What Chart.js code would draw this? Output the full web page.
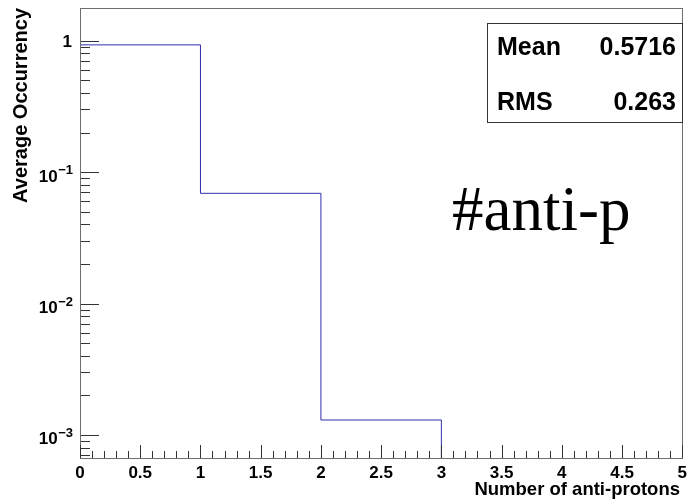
<!DOCTYPE html>
<html>
<head>
<meta charset="utf-8">
<script src="https://cdn.jsdelivr.net/npm/chart.js@4/dist/chart.umd.min.js"></script>
<style>
  html, body { margin: 0; padding: 0; background: #ffffff; }
  #wrap { width: 692px; height: 500px; }
</style>
</head>
<body>
<div id="wrap"><canvas id="c" width="692" height="500"></canvas></div>
<script>
// Bin edges (number of anti-protons) and normalised bin contents
const binEdges = [0, 1, 2, 3, 4, 5];
const binContents = [0.9297, 0.069, 0.0013, 0, 0];

// Axis ranges
const xRange = [0, 5];
const yRange = [0.000668, 1.774];

// Tick labels
const xTickLabels = ['0', '0.5', '1', '1.5', '2', '2.5', '3', '3.5', '4', '4.5', '5'];
const yTickValues = [1e-3, 1e-2, 1e-1, 1];
const yTickBase = ['10', '10', '10', '1'];
const yTickExp = ['\u22123', '\u22122', '\u22121', ''];

// Titles, statistics box and annotation
const xTitle = 'Number of anti-protons';
const yTitle = 'Average Occurrency';
const statNames = ['Mean', 'RMS'];
const statValues = ['0.5716', '0.263'];
const annotation = '#anti-p';

const SANS = '"Liberation Sans", Arial, Helvetica, sans-serif';
const SERIF = '"Liberation Serif", "Times New Roman", serif';

// Histogram outline: one point per lower bin edge; the first empty bin
// closes the outline down to the axis floor (empty bins are not drawn on a log axis).
const histPoints = [];
for (let i = 0; i < binContents.length; i++) {
  const c = binContents[i];
  histPoints.push({ x: binEdges[i], y: c > 0 ? c : yRange[0] });
  if (!(c > 0)) break;
}

const frameAndAxes = {
  id: 'frameAndAxes',
  beforeDraw(chart) {
    const ctx = chart.ctx;
    ctx.save();
    ctx.fillStyle = '#ffffff';
    ctx.fillRect(0, 0, chart.width, chart.height);
    ctx.restore();
  },
  afterDatasetsDraw(chart) {
    const { ctx, chartArea: a, scales } = chart;
    const xs = scales.x, ys = scales.y;
    const L = Math.round(a.left), R = Math.round(a.right);
    const T = Math.round(a.top), B = Math.round(a.bottom);
    ctx.save();

    // frame
    ctx.strokeStyle = '#6e6e6e';
    ctx.lineWidth = 1;
    ctx.strokeRect(L + 0.5, T + 0.5, R - L, B - T);

    // x ticks (major every 0.5, minor every 0.1), drawn inward
    ctx.strokeStyle = '#333333';
    ctx.beginPath();
    for (let i = 0; i <= 50; i++) {
      const v = xRange[0] + i * 0.1;
      const px = Math.round(xs.getPixelForValue(v)) + 0.5;
      const len = (i % 5 === 0) ? 13 : 7;
      ctx.moveTo(px, B);
      ctx.lineTo(px, B - len);
    }
    // y ticks (major at decades, minor at 2..9), drawn inward
    for (let d = -4; d <= 0; d++) {
      for (let m = 1; m <= 9; m++) {
        const v = m * Math.pow(10, d);
        if (v < yRange[0] || v > yRange[1]) continue;
        const py = Math.round(ys.getPixelForValue(v)) + 0.5;
        const len = (m === 1) ? 18 : 9;
        ctx.moveTo(L + 1, py);
        ctx.lineTo(L + 1 + len, py);
      }
    }
    ctx.stroke();

    // y tick labels with superscript exponents
    ctx.fillStyle = '#000000';
    ctx.textAlign = 'right';
    ctx.textBaseline = 'alphabetic';
    yTickValues.forEach((v, i) => {
      const py = ys.getPixelForValue(v);
      if (yTickExp[i]) {
        ctx.font = 'bold 13px ' + SANS;
        ctx.fillText(yTickExp[i], 73, py + 2);
        const w = ctx.measureText(yTickExp[i]).width;
        ctx.font = 'bold 17px ' + SANS;
        ctx.fillText(yTickBase[i], 73 - w - 0.5, py + 9.5);
      } else {
        ctx.font = 'bold 17px ' + SANS;
        ctx.fillText(yTickBase[i], 72, py + 6);
      }
    });

    // axis titles
    ctx.font = 'bold 18.5px ' + SANS;
    ctx.textAlign = 'right';
    ctx.fillText(xTitle, 680, 495);
    ctx.save();
    ctx.translate(27, 8);
    ctx.rotate(-Math.PI / 2);
    ctx.font = 'bold 20px ' + SANS;
    ctx.fillText(yTitle, 0, 0);
    ctx.restore();

    // statistics box
    ctx.fillStyle = '#ffffff';
    ctx.fillRect(487, 23, 196, 100);
    ctx.strokeStyle = '#333333';
    ctx.strokeRect(487.5, 23.5, 195, 99);
    ctx.fillStyle = '#000000';
    ctx.font = 'bold 25px ' + SANS;
    const baselines = [55, 110];
    statNames.forEach((n, i) => {
      ctx.textAlign = 'left';
      ctx.fillText(n, 497, baselines[i]);
      ctx.textAlign = 'right';
      ctx.fillText(statValues[i], 676, baselines[i]);
    });

    // annotation
    ctx.font = '63px ' + SERIF;
    ctx.textAlign = 'left';
    ctx.fillText(annotation, 452, 230);

    ctx.restore();
  }
};

new Chart(document.getElementById('c'), {
  type: 'line',
  data: {
    datasets: [{
      data: histPoints,
      stepped: 'before',
      borderColor: '#2f2fb0',
      borderWidth: 1,
      pointRadius: 0,
      fill: false,
      tension: 0
    }]
  },
  options: {
    responsive: false,
    animation: false,
    devicePixelRatio: 1,
    layout: { padding: { top: 8, right: 5, left: 0, bottom: 0 } },
    plugins: { legend: { display: false }, tooltip: { enabled: false } },
    scales: {
      x: {
        type: 'linear',
        min: xRange[0],
        max: xRange[1],
        grid: { display: false, drawTicks: false },
        border: { display: false },
        ticks: {
          stepSize: 0.5,
          autoSkip: false,
          maxRotation: 0,
          padding: 5,
          color: '#000000',
          font: { family: SANS, size: 17, weight: 'bold' },
          callback: (v, i) => xTickLabels[i]
        },
        afterFit(s) { s.height = 42; }
      },
      y: {
        type: 'logarithmic',
        min: yRange[0],
        max: yRange[1],
        grid: { display: false, drawTicks: false },
        border: { display: false },
        ticks: { display: false },
        afterFit(s) { s.width = 80; }
      }
    }
  },
  plugins: [frameAndAxes]
});
</script>
</body>
</html>
